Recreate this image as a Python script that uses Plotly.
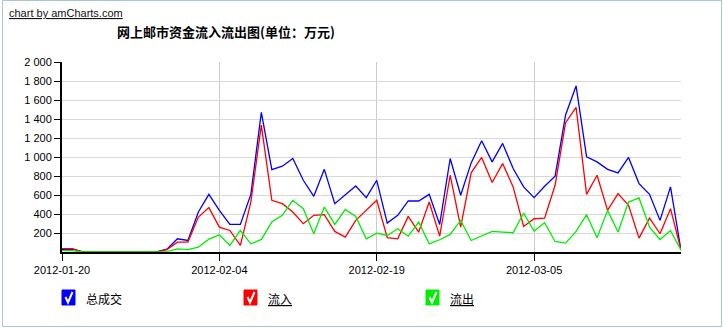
import plotly.graph_objects as go
import pandas as pd

dates = pd.date_range("2012-01-20", periods=60, freq="D")

total = [26, 30, 0, 0, 0, 0, 0, 0, 0, 0,
         30, 139, 121, 421, 607, 438, 290, 290, 607, 1470,
         868, 903, 984, 755, 586, 870, 509, 607, 695, 572,
         755, 305, 386, 537, 537, 607, 290, 984, 597, 938,
         1171, 949, 1143, 879, 685, 572, 692, 798, 1442, 1748,
         1002, 949, 870, 833, 995, 720, 607, 333, 685, 20]
inflow = [35, 35, 0, 0, 0, 0, 0, 0, 0, 0,
          25, 104, 104, 368, 467, 262, 227, 69, 526, 1336,
          544, 509, 421, 298, 386, 393, 217, 157, 333, 438,
          544, 150, 139, 375, 210, 526, 167, 808, 262, 833,
          995, 732, 931, 685, 269, 350, 357, 702, 1361, 1523,
          607, 808, 438, 614, 491, 146, 357, 192, 456, 20]
outflow = [15, 15, 0, 0, 0, 0, 0, 0, 0, 0,
           5, 33, 26, 51, 135, 181, 69, 227, 86, 132,
           315, 386, 544, 456, 192, 474, 290, 449, 375, 139,
           199, 174, 245, 167, 315, 86, 129, 185, 333, 121,
           167, 217, 210, 203, 410, 220, 308, 111, 93, 217,
           393, 150, 438, 210, 526, 569, 262, 132, 227, 20]

series_names = ["总成交", "流入", "流出"]
series_colors = ["#0000ff", "#ff0000", "#00ee00"]
y_ticks = [200, 400, 600, 800, 1000, 1200, 1400, 1600, 1800, 2000]
title_text = "网上邮市资金流入流出图(单位：万元)"

W, H = 723, 329
L, R, T, B = 62, 42, 62, 77
pw, ph = W - L - R, H - T - B

def px(x):
    return (x - L) / pw

def py(y):
    return (H - B - y) / ph

fig = go.Figure()
for name, vals, col in zip(series_names, [total, inflow, outflow], series_colors):
    fig.add_trace(go.Scatter(x=dates, y=vals, mode="lines", name=name,
                             line=dict(color=col, width=1.3), showlegend=False))

font_fam = "Liberation Sans, Arial, sans-serif"
cjk = "Noto Sans CJK SC, sans-serif"

fig.update_layout(
    width=W, height=H,
    margin=dict(l=L, r=R, t=T, b=B),
    paper_bgcolor="white", plot_bgcolor="white",
    separators=". ",
    font=dict(family=font_fam, size=11, color="black"),
    xaxis=dict(
        type="date", range=[dates[0], dates[-1]],
        tick0="2012-01-20", dtick=15 * 86400000, tickformat="%Y-%m-%d",
        showline=True, linecolor="black", linewidth=2,
        ticks="outside", ticklen=7, tickcolor="black", tickwidth=1,
        showgrid=True, gridcolor="#cccccc", gridwidth=1,
        zeroline=False, tickfont=dict(size=11, family=font_fam),
    ),
    yaxis=dict(
        range=[0, 2000], tickvals=y_ticks, tickformat=",d",
        showline=True, linecolor="black", linewidth=2,
        ticks="outside", ticklen=6, tickcolor="black", tickwidth=1,
        showgrid=True, gridcolor="#d8d8d8", gridwidth=1,
        zeroline=False, tickfont=dict(size=11, family=font_fam),
    ),
)

annotations = [
    dict(text="<u>chart by amCharts.com</u>", x=px(7), y=py(13), xref="paper", yref="paper",
         xanchor="left", yanchor="middle", showarrow=False,
         font=dict(size=11, family=font_fam, color="#111111")),
    dict(text="<b>" + title_text + "</b>", x=px(226), y=py(32), xref="paper", yref="paper",
         xanchor="center", yanchor="middle", showarrow=False,
         font=dict(size=13, family=cjk, color="black")),
]

shapes = [
    dict(type="rect", xref="paper", yref="paper", x0=px(2.5), x1=px(721.5), y0=py(0.5), y1=py(326.5),
         line=dict(color="#a8c8da", width=1), fillcolor="rgba(0,0,0,0)", layer="below"),
]

legend_box_x = [62, 244, 426]
legend_labels = [series_names[0], "<u>" + series_names[1] + "</u>", "<u>" + series_names[2] + "</u>"]
for bx, lab, col in zip(legend_box_x, legend_labels, series_colors):
    shapes.append(dict(type="rect", xref="paper", yref="paper",
                       x0=px(bx), x1=px(bx + 13), y0=py(305), y1=py(290),
                       line=dict(color=col, width=1), fillcolor=col))
    path = "M {:.5f},{:.5f} L {:.5f},{:.5f} L {:.5f},{:.5f}".format(
        px(bx + 3.5), py(297), px(bx + 6), py(302.5), px(bx + 10.5), py(292))
    shapes.append(dict(type="path", xref="paper", yref="paper", path=path,
                       line=dict(color="white", width=2)))
    annotations.append(dict(text=lab, x=px(bx + 22), y=py(298), xref="paper", yref="paper",
                            xanchor="left", yanchor="middle", showarrow=False,
                            font=dict(size=12, family=cjk, color="black")))

fig.update_layout(annotations=annotations, shapes=shapes)
fig.write_html("out.html")
